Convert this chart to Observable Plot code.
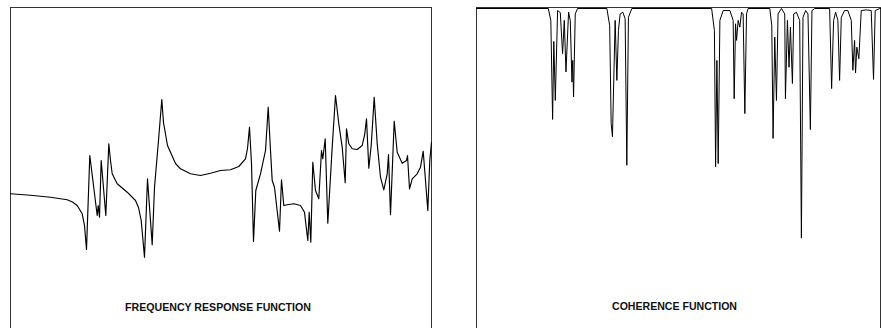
<!DOCTYPE html>
<html><head><meta charset="utf-8">
<script src="https://cdn.jsdelivr.net/npm/d3@7"></script>
<script src="https://cdn.jsdelivr.net/npm/@observablehq/plot@0.6"></script>
<style>
html,body{margin:0;padding:0;background:#fff;}
#wrap{position:relative;width:881px;height:328px;overflow:hidden;background:#fff;}
#frf{position:absolute;left:9px;top:6px;}
#coh{position:absolute;left:475px;top:6px;}
</style></head><body><div id="wrap"><div id="frf"></div><div id="coh"></div></div>
<script>
// Frequency response function (frequency, level)
const frfFreq = [0,20,40,56.7,62,66.7,71.7,74,76,79.3,83,86.7,87.7,89,90.7,95.3,98.3,100,101.7,106.7,116.7,125,128,130.7,134,137,141.7,144,148,151.3,153,157,165,170,180,190,200,210,220,228.3,235,237,239,241,243,245.3,250,255,257.7,260,261.7,264,269,271,273.3,276.7,283.3,290,294,297.3,298.7,300.3,302.3,305,308.3,311,312.3,314.7,317.3,321.7,325,328.3,331.7,334.7,336,338.3,341.7,346.7,351.7,354.3,356,358.3,360.7,363.7,366.7,370,373.3,376.7,378,380,383.7,386.7,391.7,396,397,399,401.7,406.7,410,412.7,415,417.3,419.3,421];
const frfLevel = [6.7,5.3,3.3,0.7,-1.5,-5,-13.3,-25,-49,45,15,-15,-5,-16.7,40,-15,56.7,40,26.7,16.7,8.3,0,-7,-20,-56.7,21.7,-44.3,13.3,60,101,78,55,37,31.7,26.7,25,27.3,30,30.7,34,41.7,52,73.3,36.7,-41,10,26.7,50,93.3,50,20,13.3,-30.7,20.7,-5,-4.3,-3.3,-5,-11.7,-40,-11.7,-41.7,38.3,10,1.7,50,41.7,61.7,-22.7,53.3,105,76.7,53.3,17.7,71.7,56.7,51.7,51,55,66.7,81.7,32.3,55,103.3,56.7,23.3,10.7,26.7,46,-14.3,79.3,48.3,37.3,40,45,11.7,21.7,26.7,33.3,49.3,20,-10,40,58.3];

// Coherence function (frequency, coherence)
const cohFreq = [0,72,74.5,76.3,77.5,79,81.3,84,86.3,88,89.7,92.3,94,95.7,96.5,97.3,99,101.3,130.7,133.5,135,136.3,139,140.7,142.3,144,146.7,149,150.7,152.3,155.7,235.7,238.5,239.7,241,242.3,244,247.3,254,257.3,258.3,259.7,260.7,262.3,264,265.7,267.3,269,270.7,272.3,294,296,297.3,299,300.7,302.3,305.7,309,309.7,311.7,313.3,314.7,316.7,318,320.7,324,325.7,327.3,330,332.3,334.7,336.3,339,354,356,358,360,362.3,364,365.7,369,372.3,375.7,377.3,379,380,381.3,383.3,385.7,390.7,395.7,398,399.7,404.3,405];
const cohValue = [0.997,0.997,0.962,0.670,0.900,0.726,0.991,0.985,0.864,0.962,0.810,0.986,0.962,0.780,0.844,0.736,0.981,0.997,0.997,0.947,0.658,0.619,0.962,0.785,0.932,0.981,0.986,0.967,0.535,0.971,0.997,0.997,0.932,0.530,0.844,0.540,0.962,0.991,0.991,0.962,0.731,0.952,0.903,0.962,0.942,0.986,0.981,0.687,0.981,0.997,0.997,0.947,0.614,0.913,0.726,0.981,0.997,0.981,0.731,0.962,0.824,0.942,0.776,0.981,0.986,0.962,0.320,0.971,0.991,0.981,0.640,0.991,0.997,0.997,0.761,0.962,0.986,0.962,0.785,0.971,0.991,0.991,0.962,0.815,0.903,0.807,0.883,0.849,0.991,0.993,0.991,0.788,0.991,0.997,0.997];

const titles = ["FREQUENCY RESPONSE FUNCTION", "COHERENCE FUNCTION"];

const font = "'Liberation Sans', Arial, Helvetica, sans-serif";
const frfData = frfFreq.map((f, i) => ({f, v: frfLevel[i]}));
const cohData = cohFreq.map((f, i) => ({f, v: cohValue[i]}));

const common = {
  marginTop: 1, marginLeft: 1, marginRight: 1, marginBottom: 1,
  height: 342,
  style: {fontFamily: font, background: "transparent", overflow: "visible"}
};

const frf = Plot.plot({
  ...common,
  width: 423,
  x: {axis: null, domain: [0, 421]},
  y: {axis: null, domain: [-147, 193]},
  marks: [
    Plot.frame({stroke: "#333"}),
    Plot.line(frfData, {x: "f", y: "v", stroke: "#000", strokeWidth: 1.15}),
    Plot.text([titles[0]], {text: d => d, frameAnchor: "bottom", dy: -37, dx: -3,
      fontSize: 10.6, fontWeight: "bold", fill: "#111", fontFamily: font})
  ]
});
document.getElementById("frf").appendChild(frf);

const coh = Plot.plot({
  ...common,
  width: 407,
  x: {axis: null, domain: [0, 405]},
  y: {axis: null, domain: [0, 1]},
  marks: [
    Plot.frame({stroke: "#333"}),
    Plot.line(cohData, {x: "f", y: "v", stroke: "#000", strokeWidth: 1}),
    Plot.text([titles[1]], {text: d => d, frameAnchor: "bottom", dy: -37, dx: -4,
      fontSize: 10.6, fontWeight: "bold", fill: "#111", fontFamily: font})
  ]
});
document.getElementById("coh").appendChild(coh);
</script>
</body></html>
